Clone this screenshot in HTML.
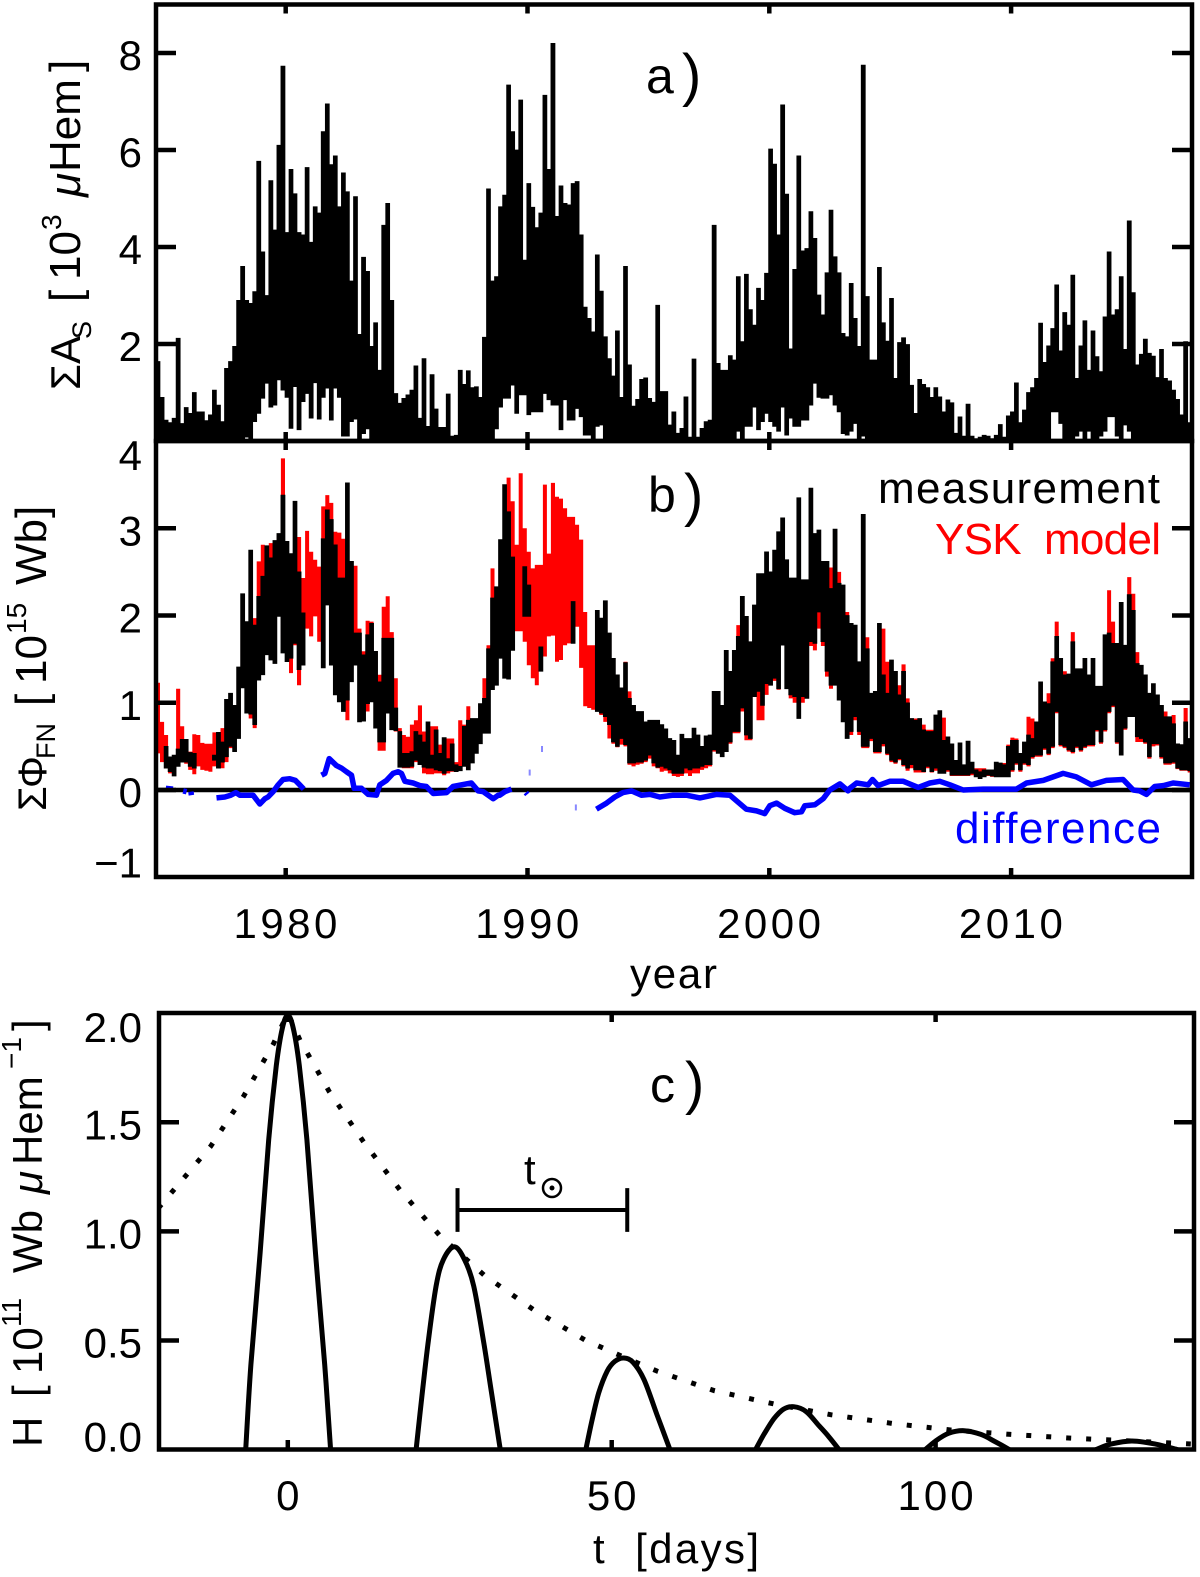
<!DOCTYPE html>
<html lang="en">
<head>
<meta charset="utf-8">
<title>Sunspot area and open flux chart</title>
<style>
html,body{margin:0;padding:0;background:#fff;}
svg{display:block;}
text{font-family:"Liberation Sans",sans-serif;font-size:42px;fill:#000;}
</style>
</head>
<body>
<svg id="chart" xmlns="http://www.w3.org/2000/svg" width="1200" height="1577" viewBox="0 0 1200 1577">
<defs>
<clipPath id="clip-a"><rect x="156" y="4" width="1036" height="437"/></clipPath>
<clipPath id="clip-b"><rect x="156" y="441" width="1036" height="436"/></clipPath>
<clipPath id="clip-c"><rect x="159" y="1013" width="1035" height="437"/></clipPath>
</defs>
<rect width="1200" height="1577" fill="#fff"/>
<g id="marks"></g>

<g transform="translate(80,390) rotate(-90)">
<text style="font-size:44px"><tspan x="0" y="0" style="font-size:42px">ΣA</tspan><tspan x="51" y="11" style="font-size:27px">S</tspan><tspan x="88" y="0">[</tspan><tspan x="110" y="0">10</tspan><tspan x="160" y="-19" style="font-size:28px">3</tspan><tspan x="193" y="0" font-style="italic">μ</tspan><tspan x="218" y="0">Hem</tspan><tspan x="318" y="0">]</tspan></text>
</g>
<g transform="translate(46,811) rotate(-90)">
<text style="font-size:44px"><tspan x="0" y="0" style="font-size:40px">Σ</tspan><tspan x="23" y="0" style="font-size:40px">Φ</tspan><tspan x="52" y="9" style="font-size:27px">FN</tspan><tspan x="105" y="0">[</tspan><tspan x="127" y="0">10</tspan><tspan x="177" y="-20" style="font-size:28px">15</tspan><tspan x="226" y="0">Wb</tspan><tspan x="293" y="0">]</tspan></text>
</g>
<g transform="translate(42,1447) rotate(-90)">
<text style="font-size:42px"><tspan x="0" y="0">H</tspan><tspan x="50" y="0">[</tspan><tspan x="73" y="0">10</tspan><tspan x="120" y="-21" style="font-size:28px">11</tspan><tspan x="174" y="0">Wb</tspan><tspan x="253" y="0" font-style="italic">μ</tspan><tspan x="282" y="0">Hem</tspan><tspan x="378" y="-21" style="font-size:28px">−1</tspan><tspan x="416" y="0">]</tspan></text>
</g>

<text x="646" y="93" style="font-size:50px">a</text>
<text x="682" y="95" style="font-size:58px">)</text>
<text x="648" y="512" style="font-size:50px">b</text>
<text x="684" y="515" style="font-size:58px">)</text>
<text x="650" y="1102" style="font-size:50px">c</text>
<text x="685" y="1103" style="font-size:58px">)</text>

<text x="878" y="503" textLength="282" lengthAdjust="spacing" style="font-size:44px">measurement</text>
<text x="935" y="554" textLength="226" lengthAdjust="spacing" style="font-size:44px;fill:#ff0000" xml:space="preserve">YSK  model</text>
<text x="955" y="843" textLength="206" lengthAdjust="spacing" style="font-size:44px;fill:#0000ff">difference</text>

<text x="630" y="988" textLength="87" lengthAdjust="spacing">year</text>
<text x="593" y="1563" textLength="166" lengthAdjust="spacing" xml:space="preserve">t  [days]</text>
<text x="524" y="1184" style="font-size:42px">t</text>
<g>
<circle cx="552" cy="1188" r="9" fill="none" stroke="#000" stroke-width="2.5"/>
<circle cx="552" cy="1188" r="2.5" fill="#000"/>
</g>
</svg>

<script>
// ---------- panel a: sunspot area (10^3 µHem), one value per 1/6 year column ----------
const columnStartYear = 1974.636;
const columnStepYears = 1 / 6;
const areaUpper = [
1.64,.9,.43,.38,.47,2.12,.36,.69,.57,1.0,.6,.6,.42,.54,1.05,.74,.4,1.5,1.64,1.95,
2.9,3.6,2.9,2.84,3.08,5.77,3.9,3.0,5.37,4.35,6.1,7.73,4.3,5.6,5.1,4.3,4.25,5.64,4.1,4.83,
4.7,6.38,6.95,5.7,5.88,4.83,5.53,5.14,3.3,5.04,2.2,3.79,3.5,1.95,2.44,1.46,4.45,4.9,2.9,.98,
.78,.88,.95,1.05,1.55,.47,1.7,.3,1.37,.66,.28,.28,.97,.1,.12,1.46,1.17,1.45,1.1,1.12,
.9,2.14,5.2,3.3,3.39,4.83,5.07,7.34,6.38,6.0,7.03,3.73,5.31,4.82,4.4,4.7,7.13,5.6,8.2,4.63,
5.26,4.9,4.87,5.31,5.35,4.25,2.76,2.53,2.25,3.84,3.09,2.15,1.7,1.34,2.27,.9,3.6,1.57,.72,.86,
1.27,1.3,.88,.8,2.8,1.02,1.02,.33,.6,.16,.26,.91,.08,1.69,.08,.26,.4,.43,4.45,1.6,
1.46,1.46,1.76,1.67,3.39,2.05,3.44,2.71,2.39,3.15,2.9,3.46,6.02,5.71,4.25,6.93,5.09,1.9,3.54,5.88,
3.92,3.97,4.73,4.18,3.01,2.6,3.47,4.76,3.8,3.47,2.22,2.15,
3.25,2.53,1.95,7.75,2.98,1.67,1.67,3.58,2.44,2.06,2.94,1.29,2.03,2.13,1.99,1.15,.57,1.27,1.17,1.1,
.9,1.1,.91,.6,.85,.79,.16,.5,.1,.76,.1,.05,.08,.12,.1,.05,.12,.34,.08,.52,
.6,1.2,.38,.64,1.0,1.1,1.29,2.43,1.62,1.96,2.32,3.22,1.86,2.65,2.39,3.42,1.29,1.96,2.48,1.46,
2.27,1.74,1.43,2.56,3.9,2.6,2.71,3.39,1.89,4.54,3.06,1.57,1.79,2.1,1.81,1.75,1.31,1.89,1.29,1.24,
1.05,.86,.54,2.05,.38];
const areaLower = [
0,0,0,0,0,0,0,0,0,0,0,0,0,0,0,0,0,0,0,0,
0,0,.08,.05,.4,.57,.88,1.19,.7,.74,1.26,1.05,.9,.26,1.12,.23,.81,.98,.47,1.2,
.45,.9,1.09,.43,1.09,.9,.1,.1,.4,.45,.05,.15,.25,.05,0,0,0,0,0,0,
0,0,0,0,0,0,0,0,0,0,0,0,0,0,0,0,0,0,0,0,
0,0,0,.05,.25,.7,.88,.88,1.15,.57,.95,.95,.54,.6,.6,.6,.98,.85,.74,.74,
.23,.85,.43,.43,.67,.5,.12,.12,.05,.3,.33,.05,0,0,0,0,0,0,0,0,
0,0,0,0,0,0,0,0,0,0,0,0,0,0,0,0,0,0,0,0,
0,0,0,0,.2,.05,.3,.3,.7,.23,.4,.57,.4,.3,.2,.7,.12,.47,.3,.3,
.43,.43,.74,1.19,.9,.88,.88,.95,.74,.6,.15,.12,
.2,.36,.05,.1,0,0,0,0,0,0,0,0,0,0,0,0,0,0,0,0,
0,0,0,0,0,0,0,0,0,0,0,0,0,0,0,0,0,0,0,0,
0,0,0,0,0,0,0,0,0,0,.6,.6,.36,.05,0,0,.1,.2,.05,.2,
.05,0,.1,.2,.5,.5,.1,.05,.33,.2,.05,0,0,0,0,0,0,0,0,0,
0,0,0,0,0];

// ---------- panel b: open flux (10^15 Wb) ----------
const measurementUpper = [
null,null,.5,.38,.4,.47,.58,.58,.43,.42,null,null,null,null,.4,.66,.55,1.04,1.11,.97,
1.41,2.25,1.93,2.75,1.89,2.22,2.45,2.8,2.66,2.86,2.94,3.38,2.85,2.71,3.31,2.5,2.03,null,null,null,
null,2.88,3.21,3.1,2.81,2.43,2.43,3.52,2.62,1.8,1.8,1.55,1.78,1.91,1.59,1.24,1.74,1.74,1.74,.94,
.67,.42,.42,.44,.67,.63,.55,.78,.4,.69,.42,.6,.36,.53,.29,.27,.73,.8,.82,.82,
.99,1.05,1.62,2.2,2.33,2.87,3.5,3.19,2.67,null,null,2.56,2.35,null,null,1.64,null,null,null,null,
null,null,null,2.16,null,null,null,null,null,2.06,1.97,2.17,1.8,1.51,1.32,1.17,1.46,1.05,.97,.9,
.9,.78,.8,.8,.8,.75,.7,.59,.57,.4,.64,.59,.59,.71,.63,.5,.62,.63,1.13,1.13,
.97,1.6,1.36,1.6,1.76,2.22,1.99,1.7,2.12,2.48,2.48,2.73,2.5,2.75,2.96,3.12,2.64,2.43,2.43,3.35,
2.41,2.41,3.46,2.94,2.98,2.62,2.62,2.31,2.99,2.37,2.35,2.0,
1.91,1.89,1.47,3.16,1.62,1.11,1.13,1.91,1.32,1.11,1.49,1.36,1.09,1.36,1.0,.82,.8,.82,.69,.67,
.67,.86,.91,.57,.61,.53,.34,.54,.29,.56,.32,.23,.21,.23,.23,.23,.32,.31,.29,.5,
.57,.57,.42,.55,.63,.59,.78,1.24,1.01,.99,1.47,1.76,1.51,1.32,1.33,1.7,1.39,1.39,1.51,1.32,
1.51,1.19,1.19,1.78,1.8,1.68,1.68,2.15,1.66,2.24,2.06,1.45,1.43,1.32,1.11,1.22,1.09,.97,.84,.84,
.76,.53,.52,.78,.59];
const measurementLower = [
null,null,.25,.21,.16,.27,.32,.32,.27,.25,null,null,null,null,.34,.25,.32,.38,.5,.44,
.59,1.17,.88,.87,.75,1.26,1.32,1.55,1.49,1.45,1.99,1.57,1.47,1.51,1.68,1.38,1.43,null,null,null,
null,1.4,2.12,1.43,1.09,1.01,.9,1.03,1.24,1.43,.78,.79,.99,1.01,.71,.55,.55,.88,.69,.68,
.26,.26,.26,.27,.34,.29,.26,.25,.25,.23,.22,.19,.22,.22,.21,.22,.27,.23,.31,.42,
.53,.65,.65,1.15,1.2,1.51,1.28,1.27,1.6,null,null,1.99,1.99,null,null,1.36,null,null,null,null,
null,null,null,1.68,null,null,null,null,null,.9,.88,.84,.75,.55,.5,.59,.52,.31,.31,.32,
.32,.34,.4,.31,.26,.27,.25,.23,.19,.19,.19,.25,.23,.25,.25,.27,.29,.29,.46,.42,
.38,.44,.55,.67,.67,.94,.63,.59,1.07,1.13,.97,1.22,1.2,1.28,1.16,1.66,1.16,1.09,1.07,.82,
1.07,1.05,1.7,1.68,2.04,1.7,1.36,1.2,1.2,1.03,.78,.59,
.67,.84,.67,.5,.5,.59,.44,.44,.53,.42,.34,.32,.36,.29,.25,.29,.23,.23,.21,.27,
.21,.25,.19,.19,.23,.17,.17,.17,.17,.17,.19,.15,.13,.15,.17,.16,.15,.15,.15,.15,
.23,.31,.23,.31,.29,.38,.4,.4,.48,.42,.5,.9,.52,.5,.46,.44,.5,.46,.5,.52,
.52,.69,.55,.69,.9,.97,.55,.4,.71,.84,.84,.61,.59,.55,.38,.53,.53,.38,.31,.31,
.32,.25,.23,.23,.22];
const modelUpper = [
1.23,.78,.63,.38,.38,1.16,.73,.55,.44,.64,.63,.54,.53,.53,.66,.66,.71,.78,.86,.97,
1.28,1.95,1.93,1.89,1.97,2.62,2.81,2.66,2.83,2.66,2.92,3.8,2.85,2.66,2.73,2.9,2.43,2.97,2.73,2.64,
2.56,3.25,3.38,3.29,2.96,2.95,2.88,2.81,2.62,2.57,1.85,1.59,1.94,1.93,1.59,1.32,2.1,2.22,1.81,1.28,
.71,.63,.61,.75,.8,.97,.67,.59,.73,.73,.52,.5,.59,.59,.32,.8,.75,.96,.82,.82,
.78,1.28,1.66,2.54,2.2,2.81,2.88,3.58,3.31,2.81,3.63,3.0,2.73,2.54,2.58,2.58,3.5,2.71,3.52,3.36,
3.34,3.23,3.13,3.13,3.04,2.87,2.04,1.66,1.66,2.04,1.93,2.17,1.8,1.51,1.32,1.17,1.47,1.13,.97,.9,
.9,.78,.8,.8,.8,.75,.7,.59,.57,.4,.64,.59,.59,.71,.63,.5,.62,.63,1.13,1.13,
.97,1.6,1.36,1.6,1.89,2.22,1.99,1.7,2.12,2.48,2.48,2.73,2.5,2.75,2.96,3.12,2.64,2.43,2.43,3.35,
2.41,2.41,3.46,2.94,2.98,2.62,2.62,2.55,2.99,2.5,2.35,2.04,
1.91,1.89,1.47,2.56,1.75,1.11,1.13,1.91,1.85,1.47,1.49,1.36,1.2,1.44,1.05,.82,.82,.82,.75,.69,
.69,.86,.91,.83,.61,.53,.34,.54,.29,.56,.32,.25,.25,.25,.23,.23,.32,.31,.31,.52,
.6,.59,.42,.55,.84,.82,.67,1.24,1.01,1.11,1.51,1.93,1.51,1.36,1.32,1.81,1.39,1.39,1.51,1.32,
1.51,1.19,1.19,1.78,2.29,1.93,1.68,2.15,1.66,2.44,2.25,1.58,1.43,1.32,1.11,1.22,1.09,.97,.9,.84,
.86,.53,.52,.94,.59];
const modelLower = [
.42,.32,.25,.19,.17,.36,.32,.3,.23,.18,.27,.23,.22,.21,.27,.25,.25,.32,.48,.44,
.59,1.17,1.28,.82,.71,1.28,1.85,1.59,1.55,1.45,2.0,1.74,1.47,1.34,1.66,1.2,2.0,1.85,1.76,1.99,
1.7,2.12,2.27,1.78,1.43,1.28,1.28,.8,1.28,1.55,.9,.79,.9,1.01,.71,.45,.45,.9,.9,.67,
.27,.25,.25,.25,.32,.29,.19,.18,.18,.19,.19,.17,.19,.21,.21,.23,.32,.4,.48,.59,
.63,.67,.92,1.15,1.2,1.51,1.51,1.27,1.89,1.82,1.82,1.7,1.43,1.28,1.2,1.36,1.53,1.76,1.77,1.47,
1.49,1.66,1.68,1.7,1.87,1.4,.96,.94,.92,.9,.86,.78,.59,.53,.49,.52,.5,.29,.27,.29,
.3,.32,.36,.27,.25,.21,.22,.19,.16,.15,.16,.19,.16,.19,.19,.23,.25,.27,.44,.42,
.38,.44,.53,.65,.65,.9,.57,.57,1.11,.8,.8,1.09,1.2,1.25,1.15,1.66,1.16,1.05,1.0,.82,
1.0,1.05,1.65,1.6,1.85,1.65,1.3,1.16,1.2,1.03,.78,.59,
.63,.8,.63,.48,.48,.56,.42,.42,.5,.4,.32,.3,.34,.27,.22,.25,.2,.2,.2,.25,
.2,.22,.19,.19,.21,.16,.16,.16,.16,.16,.17,.15,.13,.15,.16,.15,.15,.15,.15,.15,
.21,.29,.21,.29,.27,.36,.38,.38,.46,.4,.48,.88,.5,.48,.44,.42,.48,.44,.48,.5,
.5,.67,.53,.67,.88,.95,.53,.4,.69,.84,.84,.55,.55,.53,.36,.5,.51,.36,.29,.29,
.3,.24,.22,.22,.2];

// difference curve: each sub-list is one unbroken stretch
const differenceYears = [
[1975.04,1975.34],[1975.76,1975.9],[1976.08,1976.1],
[1977.14,1977.48,1977.73,1977.94,1978.1,1978.38,1978.65,1978.93,1979.14,1979.27,1979.48,1979.69,1979.89,1980.17,1980.4,1980.58,1980.75],
[1981.48,1981.62,1981.8,1982.1,1982.31,1982.51,1982.72,1982.83,1983.13,1983.41,1983.75,1983.89,1984.17,1984.44,1984.65,1984.79,1984.93,1985.27,1985.55,1985.82,1986.1,1986.65,1986.92,1987.27,1987.68,1987.96,1988.17,1988.58,1988.79,1988.85,1989.06,1989.34],
[1989.93,1989.99],
[1992.85,1993.27,1993.61,1993.95,1994.3,1994.71,1995.06,1995.47,1996.02,1996.57,1997.13,1997.81,1998.37,1998.71,1999.05,1999.47,1999.81,2000.02,2000.3,2000.64,2001.05,2001.33,2001.47,2001.88,2002.23,2002.5,2002.92,2003.26,2003.33,2003.61,2004.09,2004.27,2004.5,2004.98,2005.54,2006.16,2006.64,2007.05,2007.47,2008.02,2008.84,2010.22,2010.64,2011.33,2012.15,2012.7,2013.32,2013.94,2014.63,2015.05,2015.32,2015.6,2015.94,2016.29,2016.7,2017.39]];
const differenceValues = [
[.02,.01],[-.01,-.02],[-.02,-.06],
[-.09,-.08,-.06,-.03,-.06,-.06,-.06,-.16,-.1,-.08,-.02,.06,.12,.13,.11,.06,.01],
[.17,.19,.36,.28,.25,.21,.17,.02,.02,-.05,-.06,.06,.11,.19,.21,.19,.1,.08,.05,.04,-.04,-.03,.04,.06,.08,-.01,-.02,-.1,-.06,-.06,-.02,.01],
[-.03,-.05],
[-.22,-.15,-.08,-.03,-.01,-.06,-.05,-.08,-.06,-.06,-.09,-.05,-.06,-.14,-.22,-.24,-.27,-.18,-.15,-.21,-.26,-.25,-.18,-.17,-.1,0,.07,-.01,.02,.08,.06,.12,.05,.1,.1,.03,.08,.1,.06,0,.01,.01,.08,.11,.19,.15,.06,.11,.12,0,-.01,-.05,.04,.05,.08,.06]];
const strayYears = [1990.6,1990.09,1992.0];
const strayValues = [.47,.2,-.2];

// ---------- panel c: response kernel H ----------
const envelopeDays = [-20,-11.9,-6.8,-2.2,0,1.9,6.4,11.7,17.3,23.5,30.3,38,46,51.4,57,65.9,75,83.9,93.4,102.5,111.6,120.8,130.3,139.4];
const envelopeValues = [1.106,1.39,1.62,1.86,2.0,1.875,1.64,1.41,1.19,.98,.8,.64,.5,.43,.36,.27,.21,.16,.12,.09,.07,.053,.04,.026];
const lobeDays = [
[-6.5,-5.7,-4.27,-2.95,-1.77,-.85,0,.85,1.77,2.95,4.27,5.7,6.6],
[19.8,20.8,21.7,22.9,24,25.7,27.3,28.7,30.2,31.5,32.8],
[46,47,48,49.3,50.5,51.9,53.3,55,57,59],
[72.2,73.5,75,76.5,78.1,80,82,83.5,85.1],
[98.4,100,102,104.4,107,109,111.4],
[124.7,127,130.3,134,137.4]];
const lobeValues = [
[0,.39,.9,1.42,1.76,1.93,1.99,1.93,1.76,1.42,.9,.39,0],
[0,.27,.5,.75,.87,.93,.87,.75,.5,.25,0],
[0,.14,.26,.36,.405,.42,.4,.32,.16,0],
[0,.07,.14,.185,.197,.175,.11,.06,0],
[0,.04,.075,.087,.07,.04,0],
[0,.025,.04,.025,0]];
const solarPeriodStart = 26.2;
const solarPeriodEnd = 52.4;
const solarPeriodLevel = 1.098;
const solarPeriodCap = .1;

// ---------- tick values and labels ----------
const yearTicks = [1980,1990,2000,2010];
const yearLabels = ['1980','1990','2000','2010'];
const areaTicks = [2,4,6,8];
const areaLabels = ['2','4','6','8'];
const fluxTicks = [-1,0,1,2,3,4];
const fluxLabels = ['−1','0','1','2','3','4'];
const dayTicks = [0,50,100];
const dayLabels = ['0','50','100'];
const kernelTicks = [0,.5,1,1.5,2];
const kernelLabels = ['0.0','0.5','1.0','1.5','2.0'];

// ---------- axis functions ----------
const xYear = v => 285.7 + 24.18 * (v - 1980);
const yArea = v => 441 - 48.5 * v;
const yFlux = v => 790 - 87.25 * v;
const xDay = v => 287.8 + 6.478 * v;
const yKernel = v => 1449.7 - 218.3 * v;
const xColumn = i => xYear(columnStartYear + i * columnStepYears);

const NS = 'http://www.w3.org/2000/svg';
const root = document.getElementById('marks');
function mk(tag, attrs) {
  const node = document.createElementNS(NS, tag);
  for (const k in attrs) node.setAttribute(k, attrs[k]);
  root.appendChild(node);
  return node;
}
let yScaleNow = yArea;
function bandPath(upper, lower) {
  let d = '';
  let run = [];
  const flush = () => {
    if (!run.length) return;
    const top = [];
    const bot = [];
    run.forEach(i => {
      top.push(xColumn(i).toFixed(1) + ',' + yScaleNow(upper[i]).toFixed(1));
      top.push(xColumn(i + 1).toFixed(1) + ',' + yScaleNow(upper[i]).toFixed(1));
      bot.unshift(xColumn(i).toFixed(1) + ',' + yScaleNow(lower[i]).toFixed(1));
      bot.unshift(xColumn(i + 1).toFixed(1) + ',' + yScaleNow(lower[i]).toFixed(1));
    });
    d += 'M' + top.join('L') + 'L' + bot.join('L') + 'Z';
    run = [];
  };
  for (let i = 0; i < upper.length; i++) {
    if (upper[i] === null || lower[i] === null) flush();
    else run.push(i);
  }
  flush();
  return d;
}
const linePoints = (xs, ys, fx, fy) => xs.map((v, i) => fx(v).toFixed(1) + ',' + fy(ys[i]).toFixed(1)).join(' ');
function smoothPath(xs, ys, fx, fy) {
  const p = xs.map((v, i) => [fx(v), fy(ys[i])]);
  let d = 'M' + p[0][0].toFixed(1) + ',' + p[0][1].toFixed(1);
  for (let i = 0; i < p.length - 1; i++) {
    const a = p[Math.max(i - 1, 0)], b = p[i], c = p[i + 1], e = p[Math.min(i + 2, p.length - 1)];
    d += 'C' + (b[0] + (c[0] - a[0]) / 6).toFixed(1) + ',' + (b[1] + (c[1] - a[1]) / 6).toFixed(1) + ' ' +
         (c[0] - (e[0] - b[0]) / 6).toFixed(1) + ',' + (c[1] - (e[1] - b[1]) / 6).toFixed(1) + ' ' +
         c[0].toFixed(1) + ',' + c[1].toFixed(1);
  }
  return d;
}

// ---------- series ----------
yScaleNow = yArea;
let el = mk('path', {d: bandPath(areaUpper, areaLower), fill: '#000', stroke: '#000', 'stroke-width': .7, 'clip-path': 'url(#clip-a)'});



yScaleNow = yFlux;
el = mk('path', {d: bandPath(modelUpper, modelLower), fill: '#ff0000', 'clip-path': 'url(#clip-b)'});



el = mk('path', {d: bandPath(measurementUpper, measurementLower), fill: '#000', stroke: '#000', 'stroke-width': .7, 'clip-path': 'url(#clip-b)'});



el = mk('line', {x1: 156, x2: 1192, y1: yFlux(0), y2: yFlux(0), stroke: '#000', 'stroke-width': 4.5});



differenceYears.forEach((years, s) => {
  const seg = mk('polyline', {points: linePoints(years, differenceValues[s], xYear, yFlux), fill: 'none', stroke: '#0000ff', 'stroke-width': 5.5, 'stroke-linejoin': 'round', 'clip-path': 'url(#clip-b)'});
  
  
});
strayYears.forEach((v, i) => {
  const dot = mk('rect', {x: xYear(v) - 1, y: yFlux(strayValues[i]) - 3, width: 2, height: 6, fill: '#8888ff'});
  
  
});

el = mk('polyline', {points: linePoints(envelopeDays, envelopeValues, xDay, yKernel), fill: 'none', stroke: '#000', 'stroke-width': 5, 'stroke-dasharray': '5 15', 'clip-path': 'url(#clip-c)'});



lobeDays.forEach((days, s) => {
  const lobe = mk('path', {d: smoothPath(days, lobeValues[s], xDay, yKernel), fill: 'none', stroke: '#000', 'stroke-width': 5, 'clip-path': 'url(#clip-c)'});
  
  
});

el = mk('path', {
  d: 'M' + xDay(solarPeriodStart) + ',' + yKernel(solarPeriodLevel + solarPeriodCap) + 'V' + yKernel(solarPeriodLevel - solarPeriodCap) +
     'M' + xDay(solarPeriodStart) + ',' + yKernel(solarPeriodLevel) + 'H' + xDay(solarPeriodEnd) +
     'M' + xDay(solarPeriodEnd) + ',' + yKernel(solarPeriodLevel + solarPeriodCap) + 'V' + yKernel(solarPeriodLevel - solarPeriodCap),
  fill: 'none', stroke: '#000', 'stroke-width': 4});



// ---------- frames ----------
el = mk('rect', {x: 156, y: 4.5, width: 1036, height: 436.5, fill: 'none', stroke: '#000', 'stroke-width': 4.5});


el = mk('rect', {x: 156, y: 441, width: 1036, height: 436, fill: 'none', stroke: '#000', 'stroke-width': 4.5});


el = mk('rect', {x: 159, y: 1013, width: 1035, height: 436.5, fill: 'none', stroke: '#000', 'stroke-width': 4.5});



// ---------- ticks ----------
function tickLine(x1, y1, x2, y2, name) {
  const t = mk('line', {x1: x1, y1: y1, x2: x2, y2: y2, stroke: '#000', 'stroke-width': 4.5});
  
  
}
function tickText(x, y, anchor, label, spacing, name) {
  const t = mk('text', {x: x, y: y, 'text-anchor': anchor, 'letter-spacing': spacing});
  t.textContent = label;
  
  
}
areaTicks.forEach((v, i) => {
  tickLine(156, yArea(v), 176, yArea(v), 'panel-a-y-tick');
  tickLine(1172, yArea(v), 1192, yArea(v), 'panel-a-y-tick-right');
  tickText(142, yArea(v) + 17, 'end', areaLabels[i], 0, 'panel-a-y-tick-label');
});
fluxTicks.forEach((v, i) => {
  if (v > -1 && v < 4) {
    tickLine(156, yFlux(v), 176, yFlux(v), 'panel-b-y-tick');
    tickLine(1172, yFlux(v), 1192, yFlux(v), 'panel-b-y-tick-right');
  }
  tickText(142, yFlux(v) + (v === 4 ? 29 : v === -1 ? 0 : 17), 'end', fluxLabels[i], 0, 'panel-b-y-tick-label');
});
yearTicks.forEach((v, i) => {
  tickLine(xYear(v), 4.5, xYear(v), 13.5, 'panel-a-x-tick-top');
  tickLine(xYear(v), 432, xYear(v), 441, 'panel-a-x-tick-bottom');
  tickLine(xYear(v), 441, xYear(v), 450, 'panel-b-x-tick-top');
  tickLine(xYear(v), 868, xYear(v), 877, 'panel-b-x-tick-bottom');
  tickText(xYear(v) + 1.5, 938, 'middle', yearLabels[i], 3.5, 'panel-b-x-tick-label');
});
kernelTicks.forEach((v, i) => {
  if (v > 0 && v < 2) {
    tickLine(159, yKernel(v), 179, yKernel(v), 'panel-c-y-tick');
    tickLine(1174, yKernel(v), 1194, yKernel(v), 'panel-c-y-tick-right');
  }
  tickText(142, yKernel(v) + (v === 0 ? 2 : v === 2 ? 29 : 17), 'end', kernelLabels[i], 0, 'panel-c-y-tick-label');
});
dayTicks.forEach((v, i) => {
  tickLine(xDay(v), 1013, xDay(v), 1022, 'panel-c-x-tick-top');
  tickLine(xDay(v), 1440, xDay(v), 1449.5, 'panel-c-x-tick-bottom');
  tickText(xDay(v) + 1.5, 1510, 'middle', dayLabels[i], 3, 'panel-c-x-tick-label');
});
</script>
</body>
</html>
